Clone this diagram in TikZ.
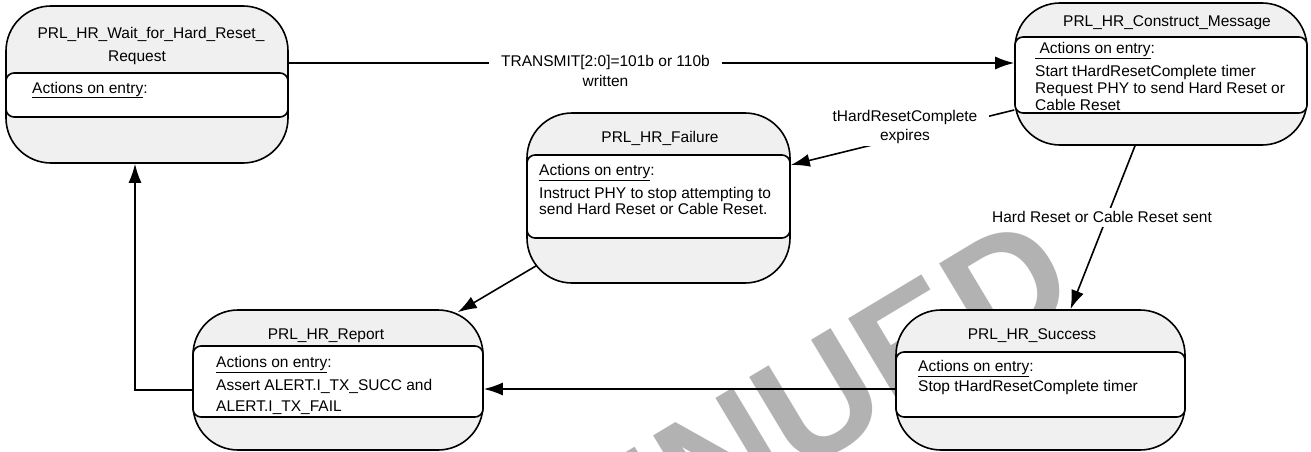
\documentclass[tikz,border=0pt]{standalone}
\usepackage{fontspec}
\setmainfont{Liberation Sans}
\usetikzlibrary{arrows.meta,calc}
\definecolor{stategray}{RGB}{240,240,240}
\definecolor{wmgray}{RGB}{178,178,178}
\newcommand\dfs{\fontsize{15.5}{17}\selectfont}
\begin{document}
\begin{tikzpicture}[x=1pt,y=-1pt,
  state/.style={draw=black, line width=1.6pt, fill=stategray, rounded corners=45pt, inner sep=0pt},
  actbox/.style={draw=black, line width=1.6pt, fill=white, rounded corners=8pt, inner sep=0pt},
  txt/.style={inner sep=0pt, anchor=base west, font=\dfs},
  ttl/.style={inner sep=0pt, anchor=base, font=\dfs},
  arr/.style={line width=1.6pt, -{Latex[length=19pt,width=13pt]}},
  lbl/.style={fill=white, inner ysep=2pt, inner xsep=12pt, align=center},
  wm/.style={inner sep=0pt, text=wmgray, font=\fontsize{158}{158}\selectfont\bfseries}]
\useasboundingbox (0,0) rectangle (1311,452);
\fill[white] (0,0) rectangle (1311,452);
% watermark
\begin{scope}
\clip (0,0) rectangle (1311,452);
\node[wm, rotate=31, anchor=base east] (wmark) at (1084,304) {DISCONTINUED};
\end{scope}
% states
\node[state, minimum width=282pt, minimum height=157pt] (wait) at (147,84.5) {};
\node[actbox, minimum width=282pt, minimum height=44pt] (waitacts) at (147,95) {};
\node[ttl] (waitt1) at (151,39) {PRL\_HR\_Wait\_for\_Hard\_Reset\_};
\node[ttl] (waitt2) at (137,62) {Request};
\node[txt] (waita) at (32,93) {\underline{Actions on entry}:};

\node[state, minimum width=292pt, minimum height=142pt] (construct) at (1161,74) {};
\node[actbox, minimum width=292pt, minimum height=76pt] (constructacts) at (1161,75) {};
\node[ttl] (constructt) at (1167,27) {PRL\_HR\_Construct\_Message};
\node[txt] (constructa) at (1035,54) {\underline{\ Actions on entry}:};
\node[txt] (constructl1) at (1035,76) {Start tHardResetComplete timer};
\node[txt] (constructl2) at (1035,93) {Request PHY to send Hard Reset or};
\node[txt] (constructl3) at (1035,110) {Cable Reset};

\node[state, minimum width=263pt, minimum height=170pt] (failure) at (658.5,198) {};
\node[actbox, minimum width=263pt, minimum height=83pt] (failureacts) at (658.5,196.5) {};
\node[ttl] (failuret) at (660,142) {PRL\_HR\_Failure};
\node[txt] (failurea) at (539,175.7) {\underline{Actions on entry}:};
\node[txt] (failurel1) at (539,198) {Instruct PHY to stop attempting to};
\node[txt] (failurel2) at (539,214) {send Hard Reset or Cable Reset.};

\node[state, minimum width=290pt, minimum height=140pt] (report) at (338,380) {};
\node[actbox, minimum width=290pt, minimum height=71pt] (reportacts) at (338,381.5) {};
\node[ttl] (reportt) at (326,339) {PRL\_HR\_Report};
\node[txt] (reporta) at (216,367.7) {\underline{Actions on entry}:};
\node[txt] (reportl1) at (216,390) {Assert ALERT.I\_TX\_SUCC and};
\node[txt] (reportl2) at (216,411.7) {ALERT.I\_TX\_FAIL};

\node[state, minimum width=289pt, minimum height=140pt] (success) at (1040.5,380) {};
\node[actbox, minimum width=289pt, minimum height=65pt] (successacts) at (1040.5,384.5) {};
\node[ttl] (successt) at (1032,339) {PRL\_HR\_Success};
\node[txt] (successa) at (918,371.7) {\underline{Actions on entry}:};
\node[txt] (successl1) at (918,391.7) {Stop tHardResetComplete timer};
% transitions
\draw[arr] ([yshift=21.5pt]wait.east) -- ([yshift=11pt]construct.west);
\node[lbl, font=\fontsize{15.5}{20}\selectfont] (l1) at (605.5,71.4) {TRANSMIT[2:0]=101b or 110b\\written};
\draw[arr] ([yshift=-36pt]construct.west) -- ([yshift=33pt]failure.east);
\node[lbl, font=\fontsize{15.5}{19.3}\selectfont] (l2) at (905,127.3) {tHardResetComplete\\expires};
\draw[arr] ([xshift=-26pt]construct.south) -- ([xshift=30pt]success.north);
\node[lbl, font=\dfs, inner ysep=4pt, inner xsep=2pt] (l3) at (1102,217.2) {Hard Reset or Cable Reset sent};
\draw[arr] ($(failure.south west)+(10,-18)$) -- ($(report.north east)+(-26,3)$);
\draw[arr] ([yshift=-9pt]success.west) -- ([yshift=-9pt]report.east);
\draw[arr] ([yshift=-10pt]report.west) -| ([xshift=-12pt]wait.south);
\end{tikzpicture}
\end{document}
